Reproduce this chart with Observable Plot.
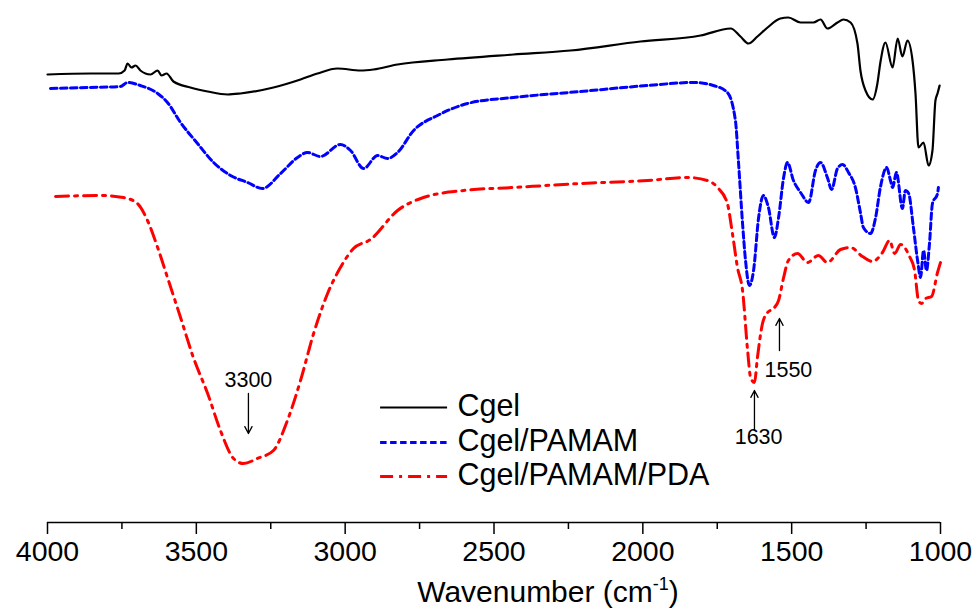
<!DOCTYPE html>
<html>
<head>
<meta charset="utf-8">
<script src="https://cdn.jsdelivr.net/npm/d3@7"></script>
<script src="https://cdn.jsdelivr.net/npm/@observablehq/plot@0.6"></script>
<style>
  body { margin: 0; background: #fff; font-family: "Liberation Sans", Arial, sans-serif; }
  #wrap { position: relative; width: 978px; height: 615px; }
  #xtitle { position: absolute; left: 0; top: 574px; width: 978px; box-sizing: border-box; padding-left: 118px;
            text-align: center; font-size: 30px; line-height: 36px; color: #000; }
  #xtitle sup { font-size: 18px; vertical-align: 0; position: relative; top: -12px; }
</style>
</head>
<body>
<div id="wrap">
  <div id="chart"></div>
  <div id="xtitle">Wavenumber (cm<sup>-1</sup>)</div>
</div>
<script>
// Cgel (black solid)
const cgelWn = [4000,3856,3761,3741,3731,3718,3704,3688,3654,3630,3617,3600,3577,3520,3462,3395,3352,3241,3150,3093,3026,2948,2905,2824,2656,2435,2243,2008,1806,1705,1672,1645,1615,1581,1538,1511,1470,1427,1403,1380,1346,1326,1302,1279,1269,1252,1228,1212,1202,1185,1161,1144,1128,1111,1094,1084,1074,1057,1040,1027,1017,1010,1003];
const cgelT  = [89.6,89.8,89.8,90.4,91.8,91.0,91.4,90.4,89.6,90.4,89.4,89.8,88.2,87.0,86.2,85.6,85.8,87.0,88.6,89.8,90.8,90.4,90.6,91.6,92.6,93.6,94.4,96.2,97.4,98.8,97.2,95.8,97.2,99.0,100.8,101.0,100.0,100.0,100.6,98.8,100.0,100.6,100.0,95.8,90.4,86.4,84.6,87.8,92.0,96.0,91.0,96.8,93.2,96.4,92.4,85.8,75.0,76.0,71.4,74.4,84.4,85.8,87.4];

// Cgel/PAMAM (blue dashed)
const pamamWn = [3990,3856,3755,3731,3688,3630,3597,3553,3496,3442,3385,3328,3278,3217,3160,3127,3083,3016,2982,2938,2891,2858,2824,2770,2690,2589,2435,2209,1984,1830,1763,1716,1689,1679,1665,1655,1642,1628,1611,1595,1578,1558,1544,1527,1514,1494,1470,1443,1420,1403,1380,1366,1346,1329,1309,1286,1269,1259,1235,1218,1202,1181,1168,1161,1148,1128,1118,1107,1091,1077,1067,1057,1047,1037,1027,1010,1007];
const pamamT  = [86.8,87.0,87.2,88.0,87.4,85.8,84.0,80.0,75.8,72.0,69.4,68.0,66.8,69.8,73.0,74.0,73.2,75.6,74.4,70.8,73.4,72.8,74.0,78.4,81.4,83.8,85.0,86.2,87.4,88.0,87.4,86.0,80.4,72.4,59.8,52.4,47.4,50.4,61.0,65.4,63.0,57.0,61.0,69.0,72.0,68.4,66.0,64.0,70.4,72.0,69.0,66.6,70.8,71.6,70.0,67.0,62.0,59.0,57.8,61.0,67.0,71.0,68.4,67.0,70.0,62.8,66.4,65.8,59.0,52.4,49.0,54.4,50.4,55.8,63.8,65.8,67.0];

// Cgel/PAMAM/PDA (red dash-dot)
const pdaWn = [3973,3822,3745,3698,3664,3630,3597,3553,3510,3462,3419,3375,3342,3295,3241,3194,3150,3106,3059,3016,2972,2915,2824,2737,2602,2435,2209,1984,1850,1783,1749,1716,1699,1682,1665,1648,1638,1625,1615,1598,1581,1561,1544,1527,1511,1480,1447,1410,1380,1336,1302,1262,1228,1195,1171,1154,1134,1104,1087,1074,1064,1050,1030,1010,1000];
const pdaT  = [65.2,65.4,65.0,63.8,60.4,55.0,49.0,41.0,33.0,25.8,18.4,12.8,11.8,12.8,14.4,20.4,28.4,37.8,45.8,51.0,54.8,56.6,62.4,65.0,66.4,67.0,67.8,68.4,69.0,68.4,67.0,63.8,57.8,51.0,46.4,34.4,29.0,28.0,33.0,39.8,42.0,42.8,44.4,49.0,52.4,53.8,52.0,53.4,52.0,54.6,55.0,53.2,52.2,54.0,56.4,53.8,55.6,53.2,50.4,44.4,43.8,44.8,45.2,50.0,52.0];

const seriesNames = ["Cgel", "Cgel/PAMAM", "Cgel/PAMAM/PDA"];
const seriesColors = ["#000000", "#0000ff", "#ff0000"];
const seriesDash = [null, "6.5,3.5", "13,6,3,6"];
const seriesWidth = [2.2, 3, 3];

const majorTicks = [4000, 3500, 3000, 2500, 2000, 1500, 1000];
const minorTicks = [3750, 3250, 2750, 2250, 1750, 1250];

// annotations: label, wavenumber, arrow from/to (transmittance), text position
const annLabels = ["3300", "1630", "1550"];
const annWn     = [3325, 1625, 1541];
const annFrom   = [25.8, 18.4, 34.4];
const annTo     = [17.8, 26.4, 40.8];
const annTextWn = [3325, 1611, 1511];
const annTextT  = [28.4, 17.0, 30.4];

// legend placement (data units)
const legendX1 = 2881, legendX2 = 2656, legendTextX = 2623;
const legendY = [23.0, 16.0, 9.2];

const mk = (wn, t, s) => wn.map((w, i) => ({wn: w, t: t[i], s}));
const series = [mk(cgelWn, cgelT, 0), mk(pamamWn, pamamT, 1), mk(pdaWn, pdaT, 2)];

const legend = seriesNames.map((n, i) => ({name: n, i, y: legendY[i]}));
const ann = annLabels.map((l, i) => ({label: l, x: annWn[i], y1: annFrom[i], y2: annTo[i], tx: annTextWn[i], ty: annTextT[i]}));

const font = "Liberation Sans, Arial, sans-serif";

const marks = [];
series.forEach((d, i) => {
  marks.push(Plot.line(d, {x: "wn", y: "t", stroke: seriesColors[i], strokeWidth: seriesWidth[i],
    strokeDasharray: seriesDash[i], curve: "monotone-x", strokeLinejoin: "round"}));
});
legend.forEach(l => {
  marks.push(Plot.ruleY([l], {x1: legendX1, x2: legendX2, y: "y", stroke: seriesColors[l.i],
    strokeWidth: seriesWidth[l.i], strokeDasharray: seriesDash[l.i]}));
});
marks.push(Plot.text(legend, {x: legendTextX, y: "y", text: "name", textAnchor: "start", fontSize: 30.5, fill: "#000", fontFamily: font, dy: -1}));
marks.push(Plot.arrow(ann, {x1: "x", y1: "y1", x2: "x", y2: "y2", stroke: "#000", strokeWidth: 1.3, headLength: 9, headAngle: 55}));
marks.push(Plot.text(ann, {x: "tx", y: "ty", text: "label", fontSize: 21.5, fill: "#000", fontFamily: font}));
marks.push(Plot.ruleY([0], {stroke: "#000", strokeWidth: 1.5}));
marks.push(Plot.axisX({ticks: majorTicks, tickSize: 12, tickPadding: 6, tickFormat: d3.format("d"), fontSize: 28.5, label: null, stroke: "#000", strokeWidth: 1.5}));
marks.push(Plot.axisX({ticks: minorTicks, tickSize: 7, tickFormat: () => "", label: null, stroke: "#000", strokeWidth: 1.5}));

const chart = Plot.plot({
  width: 978,
  height: 572,
  marginLeft: 47,
  marginRight: 38,
  marginTop: 0,
  marginBottom: 50,
  style: {fontFamily: font, color: "#000", background: "#fff", overflow: "visible"},
  x: {domain: [4000, 1000]},
  y: {domain: [0, 104.4], axis: null},
  marks
});
document.getElementById("chart").appendChild(chart);
</script>
</body>
</html>
